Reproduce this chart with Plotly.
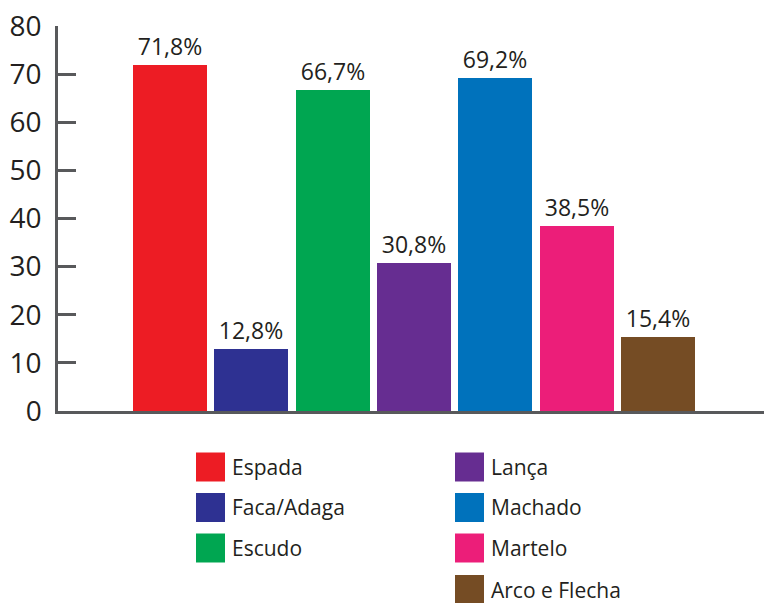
import plotly.graph_objects as go

categories = ["Espada", "Faca/Adaga", "Escudo", "Lança", "Machado", "Martelo", "Arco e Flecha"]
values = [71.8, 12.8, 66.7, 30.8, 69.2, 38.5, 15.4]
colors = ["#ED1C24", "#2E3192", "#00A651", "#662D91", "#0072BC", "#EC1E79", "#754C24"]
y_ticks = [0, 10, 20, 30, 40, 50, 60, 70, 80]

W, H = 764, 603
ML, MR, MT, MB = 58, 0, 26, 192
PW, PH = W - ML - MR, H - MT - MB

FONT = "Open Sans"
TXT = "#231F20"
AX = "#58595B"

fig = go.Figure()
for i, (c, v, col) in enumerate(zip(categories, values, colors)):
    fig.add_trace(go.Bar(
        x=[i], y=[v], name=c, marker=dict(color=col, line=dict(width=0)),
        width=0.91, texttemplate="%{y:.1f}%", textposition="outside",
        textfont=dict(family=FONT, size=23, color=TXT), cliponaxis=False,
        showlegend=False, hoverinfo="skip",
    ))

def px2paper(px, py):
    return (px - ML) / PW, (H - MB - py) / PH

# legend drawn manually: two columns
col_x = [196, 455]
row_y = [467, 507.5, 548, 589.5]
positions = [(0, 0), (0, 1), (0, 2), (1, 0), (1, 1), (1, 2), (1, 3)]
sw = 29
shapes = []
annotations = []
for (ci, ri), c, col in zip(positions, categories, colors):
    x0, yc = col_x[ci], row_y[ri]
    a0, b0 = px2paper(x0, yc + sw / 2)
    a1, b1 = px2paper(x0 + sw, yc - sw / 2)
    shapes.append(dict(type="rect", xref="paper", yref="paper", x0=a0, x1=a1, y0=b0, y1=b1,
                       fillcolor=col, line=dict(width=0), layer="above"))
    tx, ty = px2paper(x0 + sw + 5, yc)
    annotations.append(dict(xref="paper", yref="paper", x=tx, y=ty, text=c, showarrow=False,
                            xanchor="left", yanchor="middle",
                            font=dict(family=FONT, size=21, color=TXT)))

fig.update_layout(
    width=W, height=H, margin=dict(l=ML, r=MR, t=MT, b=MB),
    paper_bgcolor="white", plot_bgcolor="white",
    separators=",.", bargap=0, shapes=shapes, annotations=annotations,
    font=dict(family=FONT, color=TXT),
)
fig.update_xaxes(range=[-1.378, 7.306], showticklabels=False, ticks="", showgrid=False,
                 zeroline=False, showline=True, linecolor=AX, linewidth=2.5)
fig.update_yaxes(range=[0, 80], tickvals=y_ticks, ticks="inside", ticklen=18, tickwidth=2.5,
                 tickcolor=AX, showgrid=False, zeroline=False, showline=True, linecolor=AX,
                 linewidth=2.5, tickfont=dict(family=FONT, size=28, color=TXT),
                 ticklabelstandoff=8)

fig.write_html("out.html", config={"displayModeBar": False},
               post_script="document.body.style.margin='0';document.body.style.overflow='hidden';")
